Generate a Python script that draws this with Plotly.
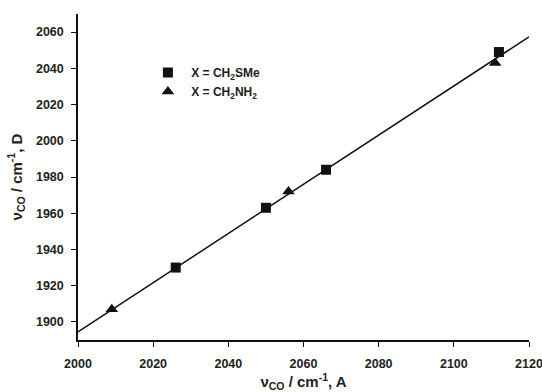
import plotly.graph_objects as go

# Data
sme_x = [2026, 2050, 2066, 2112]
sme_y = [1930, 1963, 1984, 2049]
nh2_x = [2009, 2056, 2111]
nh2_y = [1907, 1972, 2043]

# Fitted line parameters
fit_intercept = 1894.5   # value at x = 2000
fit_slope = 1.3575
fit_x = [2000, 2120]
fit_y = [fit_intercept + fit_slope * (x - 2000) for x in fit_x]

x_ticks = [2000, 2020, 2040, 2060, 2080, 2100, 2120]
y_ticks = [1900, 1920, 1940, 1960, 1980, 2000, 2020, 2040, 2060]

font_family = "Liberation Sans, Arial, sans-serif"

fig = go.Figure()
fig.add_trace(go.Scatter(x=fit_x, y=fit_y, mode="lines",
                         line=dict(color="#111", width=1.5), showlegend=False))
fig.add_trace(go.Scatter(x=sme_x, y=sme_y, mode="markers", name="&nbsp;<b>X = CH<sub>2</sub>SMe</b>",
                         marker=dict(symbol="square", size=10, color="#111")))
fig.add_trace(go.Scatter(x=nh2_x, y=nh2_y, mode="markers", name="&nbsp;<b>X = CH<sub>2</sub>NH<sub>2</sub></b>",
                         marker=dict(symbol="triangle-up", size=11, color="#111")))

axis_common = dict(showline=True, linecolor="#111", linewidth=1.5, ticks="outside",
                   ticklen=5, tickwidth=1.2, tickcolor="#111", showgrid=False, zeroline=False,
                   automargin=False, ticklabeloverflow="allow",
                   tickfont=dict(family=font_family, size=12.5, color="#222"))

fig.update_xaxes(range=[2000, 2120], tickvals=x_ticks, ticktext=[f"<b>{v}</b>" for v in x_ticks],
                 ticklabelstandoff=6,
                 title=dict(text="<b>ν<sub>CO</sub> / cm<sup>-1</sup>, A</b>",
                            font=dict(family=font_family, size=15, color="#222"), standoff=8),
                 **axis_common)
fig.update_yaxes(range=[1890, 2070], tickvals=y_ticks, ticktext=[f"<b>{v}</b>" for v in y_ticks],
                 ticklabelstandoff=5,
                 title=dict(text="<b>ν<sub>CO</sub> / cm<sup>-1</sup>, D</b>",
                            font=dict(family=font_family, size=15, color="#222"), standoff=10),
                 **axis_common)

fig.update_layout(width=542, height=392, plot_bgcolor="white", paper_bgcolor="white",
                  margin=dict(l=78, r=13, t=14, b=52, autoexpand=False),
                  legend=dict(x=0.155, y=0.865, xanchor="left", yanchor="top",
                              bgcolor="rgba(0,0,0,0)", font=dict(family=font_family, size=12, color="#222"),
                              tracegroupgap=2))

fig.write_html("out.html", config={"displayModeBar": False},
               post_script="document.body.style.margin='0';document.body.style.overflow='hidden';")
